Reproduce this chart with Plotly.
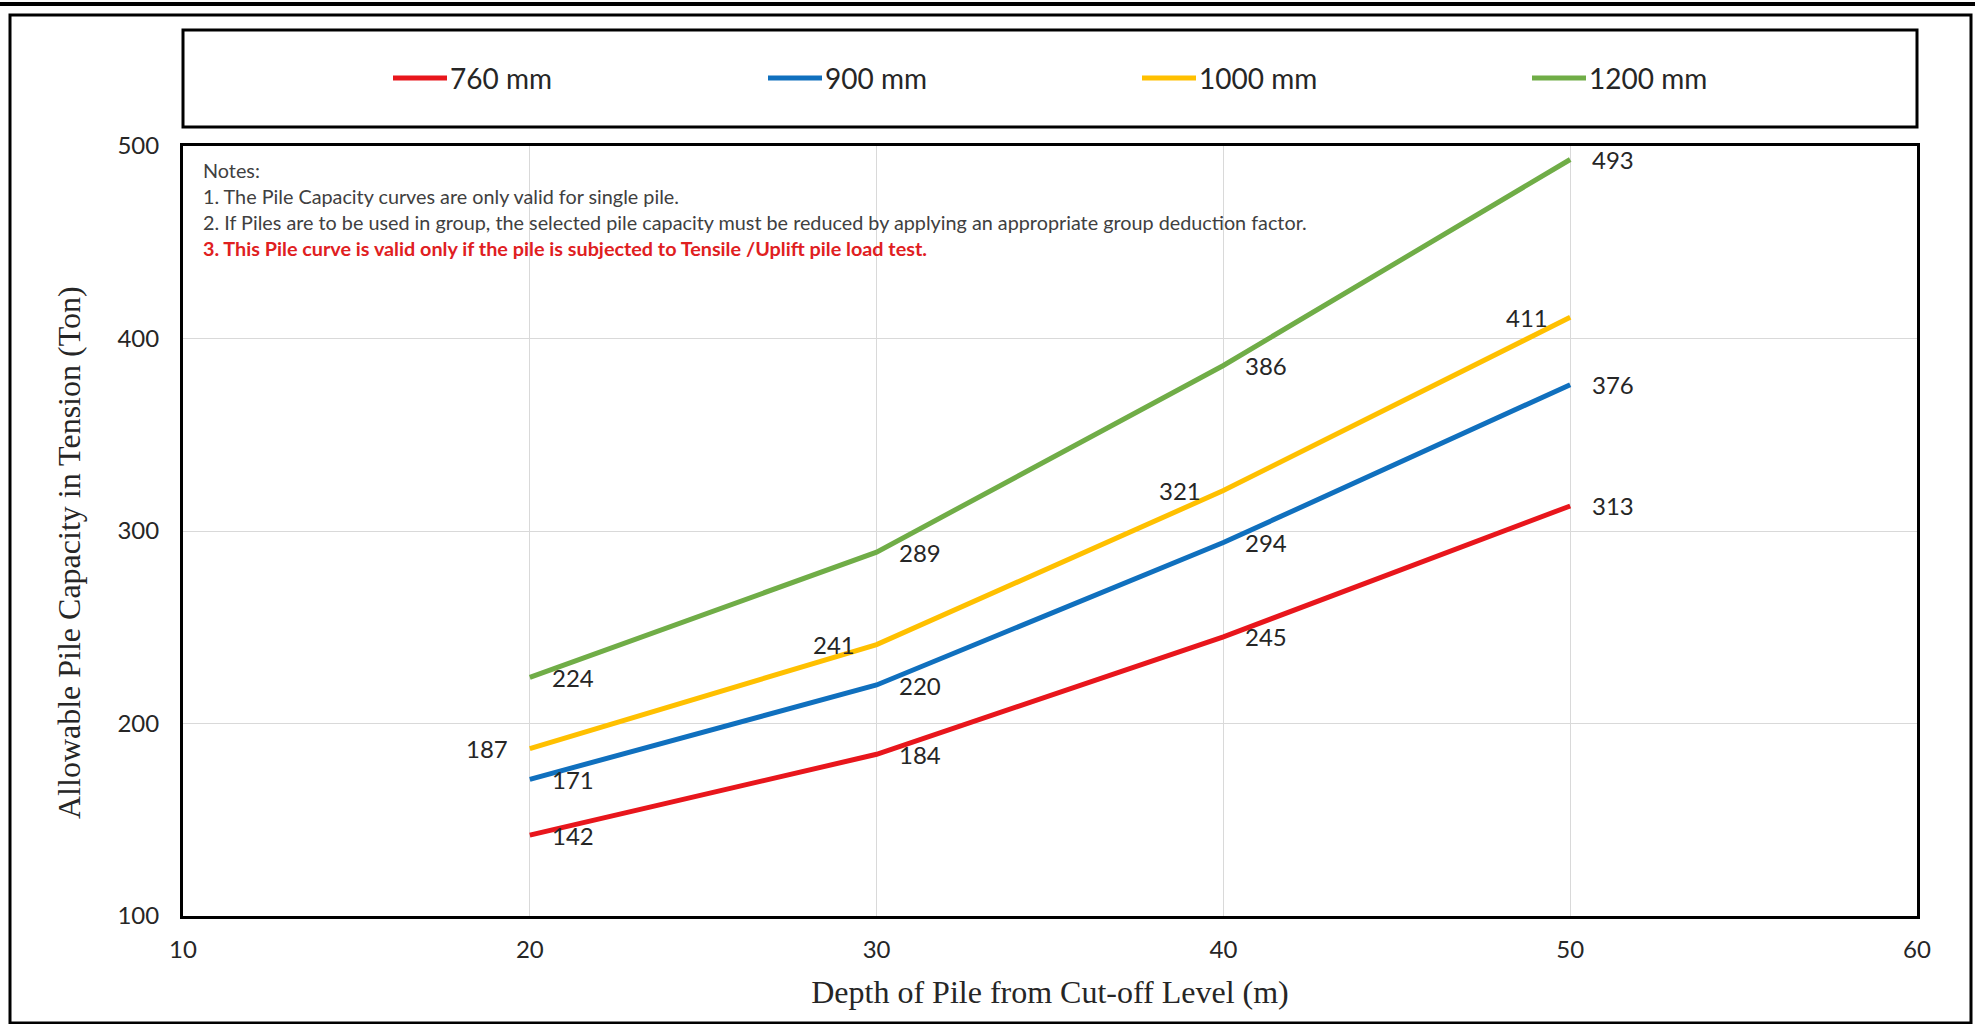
import plotly.graph_objects as go

depth = [20, 30, 40, 50]
series_names = ["760 mm", "900 mm", "1000 mm", "1200 mm"]
cap_760 = [142, 184, 245, 313]
cap_900 = [171, 220, 294, 376]
cap_1000 = [187, 241, 321, 411]
cap_1200 = [224, 289, 386, 493]
colors = ["#E8161C", "#1070BE", "#FFC000", "#70AD47"]
label_side = ["right", "right", "left", "right"]

x_ticks = [10, 20, 30, 40, 50, 60]
y_ticks = [100, 200, 300, 400, 500]

x_title = "Depth of Pile from Cut-off Level (m)"
y_title = "Allowable Pile Capacity in Tension (Ton)"

notes = [
    ("Notes:", "#404040", False),
    ("1. The Pile Capacity curves are only valid for single pile.", "#404040", False),
    ("2. If Piles are to be used in group, the selected pile capacity must be reduced by applying an appropriate group deduction factor.", "#404040", False),
    ("3. This Pile curve is valid only if the pile is subjected to Tensile /Uplift pile load test.", "#E0201F", True),
]

W, H = 1975, 1024
L, R, T, B = 183, 1917, 146, 916
pw, ph = R - L, B - T


def px(x):
    return (x - L) / pw


def py(y):
    return (B - y) / ph


fig = go.Figure()
all_series = [cap_760, cap_900, cap_1000, cap_1200]
for name, vals, col in zip(series_names, all_series, colors):
    fig.add_trace(go.Scatter(x=depth, y=vals, mode="lines", name=name,
                             line=dict(color=col, width=5), showlegend=False))

annotations = []
for vals, side in zip(all_series, label_side):
    for xv, yv in zip(depth, vals):
        annotations.append(dict(
            x=xv, y=yv, xref="x", yref="y", text=str(yv), showarrow=False,
            xanchor="left" if side == "right" else "right",
            xshift=20 if side == "right" else -20, yanchor="middle",
            font=dict(family="Lato", size=24, color="#262626")))

note_y = [170, 196, 222, 248]
for (txt, col, bold), yy in zip(notes, note_y):
    annotations.append(dict(
        x=px(201), y=py(yy), xref="paper", yref="paper", xanchor="left", yanchor="middle",
        text=("<b>%s</b>" % txt) if bold else txt, showarrow=False,
        font=dict(family="Lato", size=19.8, color=col)))

# y-axis title (placed as in the reference, slightly below the plot centre)
annotations.append(dict(x=px(69), y=py(553), xref="paper", yref="paper", text=y_title,
                        textangle=-90, showarrow=False, xanchor="center", yanchor="middle",
                        font=dict(family="Liberation Serif", size=32, color="#262626")))

shapes = [
    # outer frame
    dict(type="rect", xref="paper", yref="paper", x0=px(10), x1=px(1971), y0=py(1023), y1=py(15),
         line=dict(color="black", width=3), layer="below"),
    # top rule
    dict(type="line", xref="paper", yref="paper", x0=px(0), x1=px(1975), y0=py(4), y1=py(4),
         line=dict(color="black", width=4)),
    # legend box
    dict(type="rect", xref="paper", yref="paper", x0=px(183), x1=px(1917), y0=py(127), y1=py(30),
         line=dict(color="black", width=3)),
]

# legend entries (line sample + label)
legend_x = [393, 768, 1142, 1532]
legend_yc = 78
for name, col, lx in zip(series_names, colors, legend_x):
    shapes.append(dict(type="line", xref="paper", yref="paper", x0=px(lx), x1=px(lx + 54),
                       y0=py(legend_yc), y1=py(legend_yc), line=dict(color=col, width=5)))
    annotations.append(dict(x=px(lx + 55), y=py(legend_yc), xref="paper", yref="paper",
                            xanchor="left", yanchor="middle", text=name, showarrow=False,
                            font=dict(family="Lato", size=28, color="#262626")))

fig.update_layout(
    width=W, height=H,
    margin=dict(l=L, r=W - R, t=T, b=H - B, autoexpand=False),
    paper_bgcolor="white", plot_bgcolor="white",
    showlegend=False,
    annotations=annotations,
    shapes=shapes,
)
fig.update_xaxes(range=[10, 60], tickvals=x_ticks, showgrid=True, gridcolor="#D9D9D9", gridwidth=1,
                 showline=True, linecolor="black", linewidth=3, mirror=True, zeroline=False,
                 ticks="", ticklabelstandoff=10, automargin=False,
                 tickfont=dict(family="Lato", size=24, color="#262626"),
                 title=dict(text=x_title, standoff=19,
                            font=dict(family="Liberation Serif", size=32, color="#262626")))
fig.update_yaxes(range=[100, 500], tickvals=y_ticks, showgrid=True, gridcolor="#D9D9D9", gridwidth=1,
                 showline=True, linecolor="black", linewidth=3, mirror=True, zeroline=False,
                 ticks="", ticklabelstandoff=16, automargin=False,
                 tickfont=dict(family="Lato", size=24, color="#262626"))

fig.write_html("out.html", config={"displayModeBar": False},
               post_script="document.body.style.margin='0';document.body.style.overflow='hidden';")
